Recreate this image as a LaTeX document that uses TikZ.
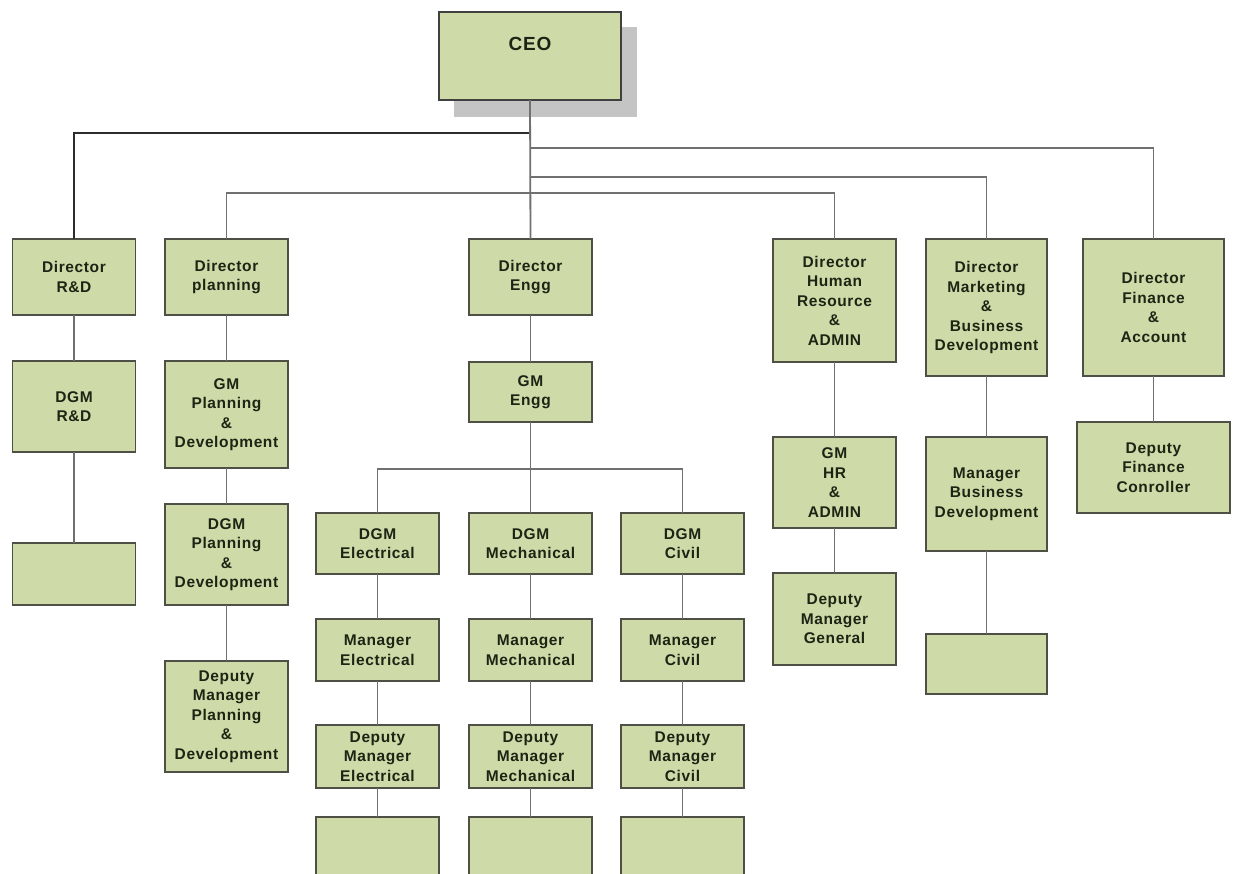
\documentclass[tikz,border=0pt]{standalone}
\usepackage{fontspec}
\setmainfont{Liberation Sans}[LetterSpace=4]
\definecolor{boxfill}{RGB}{206,219,169}
\definecolor{boxline}{RGB}{78,80,70}
\definecolor{connc}{RGB}{112,112,112}
\definecolor{connd}{RGB}{45,45,45}
\definecolor{txt}{RGB}{30,36,20}
\definecolor{shadowc}{RGB}{196,196,196}
\begin{document}
\begin{tikzpicture}[x=1pt,y=-1pt,
  orgbox/.style={draw=boxline, fill=boxfill, line width=1.8pt, inner sep=0pt, outer sep=0pt,
    align=center, font=\fontsize{15.5}{19.5}\selectfont\bfseries, text=txt, minimum width=123pt},
  connector/.style={draw=connc, line width=1.8pt},
  darkconnector/.style={draw=connd, line width=1.8pt}]
\path[use as bounding box] (0,0) rectangle (1236,874);
\clip (0,0) rectangle (1236,874);
\fill[white] (0,0) rectangle (1236,874);

% CEO
\fill[shadowc] (454,27) rectangle (637,117);
\node[orgbox, line width=2.8pt, draw=black!75, minimum width=182pt, minimum height=88pt] (ceo) at (530,56) {};
\node[font=\fontsize{19}{22}\selectfont\bfseries, text=txt] (ceotext) at (530,44) {CEO};

% Directors
\node[orgbox, minimum height=76pt] (drd) at (74,277) {Director\\R\&D};
\node[orgbox, minimum height=76pt] (dpl) at (226.5,277) {Director\\planning};
\node[orgbox, minimum height=76pt] (deng) at (530.5,277) {Director\\Engg};
\node[orgbox, minimum height=123pt] (dhr) at (834.5,300.5) {Director\\Human\\Resource\\\&\\ADMIN};
\node[orgbox, minimum width=121pt, minimum height=137pt] (dmk) at (986.5,307.5) {Director\\Marketing\\\&\\Business\\Development};
\node[orgbox, minimum width=141pt, minimum height=137pt] (dfin) at (1153.5,307.5) {Director\\Finance\\\&\\Account};

% R&D column
\node[orgbox, minimum height=91pt] (dgmrd) at (74,406.5) {DGM\\R\&D};
\node[orgbox, minimum height=62pt] (rdblank) at (74,574) {};

% Planning column
\node[orgbox, minimum height=107pt] (gmpl) at (226.5,414.5) {GM\\Planning\\\&\\Development};
\node[orgbox, minimum height=101pt] (dgmpl) at (226.5,554.5) {DGM\\Planning\\\&\\Development};
\node[orgbox, minimum height=111pt] (dmpl) at (226.5,716.5) {Deputy\\Manager\\Planning\\\&\\Development};

% Engg column
\node[orgbox, minimum height=60pt] (gmeng) at (530.5,392) {GM\\Engg};
\node[orgbox, minimum height=61pt] (dgmel) at (377.5,543.5) {DGM\\Electrical};
\node[orgbox, minimum height=61pt] (dgmme) at (530.5,543.5) {DGM\\Mechanical};
\node[orgbox, minimum height=61pt] (dgmci) at (682.5,543.5) {DGM\\Civil};
\node[orgbox, minimum height=62pt] (mel) at (377.5,650) {Manager\\Electrical};
\node[orgbox, minimum height=62pt] (mme) at (530.5,650) {Manager\\Mechanical};
\node[orgbox, minimum height=62pt] (mci) at (682.5,650) {Manager\\Civil};
\node[orgbox, minimum height=63pt] (dmel) at (377.5,756.5) {Deputy\\Manager\\Electrical};
\node[orgbox, minimum height=63pt] (dmme) at (530.5,756.5) {Deputy\\Manager\\Mechanical};
\node[orgbox, minimum height=63pt] (dmci) at (682.5,756.5) {Deputy\\Manager\\Civil};
\node[orgbox, minimum height=63pt] (bel) at (377.5,848.5) {};
\node[orgbox, minimum height=63pt] (bme) at (530.5,848.5) {};
\node[orgbox, minimum height=63pt] (bci) at (682.5,848.5) {};

% HR column
\node[orgbox, minimum height=91pt] (gmhr) at (834.5,482.5) {GM\\HR\\\&\\ADMIN};
\node[orgbox, minimum height=92pt] (dmg) at (834.5,619) {Deputy\\Manager\\General};

% Marketing column
\node[orgbox, minimum width=121pt, minimum height=114pt] (mbd) at (986.5,494) {Manager\\Business\\Development};
\node[orgbox, minimum width=121pt, minimum height=60pt] (mkblank) at (986.5,664) {};

% Finance column
\node[orgbox, minimum width=153pt, minimum height=91pt] (dfc) at (1153.5,467.5) {Deputy\\Finance\\Conroller};

% branch coordinates
\coordinate (bRD) at (530,133);
\coordinate (bFI) at (530,148);
\coordinate (bMK) at (530,177);
\coordinate (bPL) at (226.5,193);
\coordinate (bEN) at (530.5,469);

% connectors from CEO
\draw[darkconnector] (bRD) -| (drd.north);
\draw[connector] (ceo.south) -- (deng.north);
\draw[connector] (bFI) -| (dfin.north);
\draw[connector] (bMK) -| (dmk.north);
\draw[connector] (dpl.north) -- (bPL) -| (dhr.north);

% vertical chains
\draw[connector] (drd.south) -- (dgmrd.north);
\draw[connector] (dgmrd.south) -- (rdblank.north);
\draw[connector] (dpl.south) -- (gmpl.north);
\draw[connector] (gmpl.south) -- (dgmpl.north);
\draw[connector] (dgmpl.south) -- (dmpl.north);
\draw[connector] (deng.south) -- (gmeng.north);
\draw[connector] (gmeng.south) -- (dgmme.north);
\draw[connector] (dgmel.north) |- (bEN) -| (dgmci.north);
\draw[connector] (dgmel.south) -- (mel.north);
\draw[connector] (mel.south) -- (dmel.north);
\draw[connector] (dmel.south) -- (bel.north);
\draw[connector] (dgmme.south) -- (mme.north);
\draw[connector] (mme.south) -- (dmme.north);
\draw[connector] (dmme.south) -- (bme.north);
\draw[connector] (dgmci.south) -- (mci.north);
\draw[connector] (mci.south) -- (dmci.north);
\draw[connector] (dmci.south) -- (bci.north);
\draw[connector] (dhr.south) -- (gmhr.north);
\draw[connector] (gmhr.south) -- (dmg.north);
\draw[connector] (dmk.south) -- (mbd.north);
\draw[connector] (mbd.south) -- (mkblank.north);
\draw[connector] (dfin.south) -- (dfc.north);
\end{tikzpicture}
\end{document}
